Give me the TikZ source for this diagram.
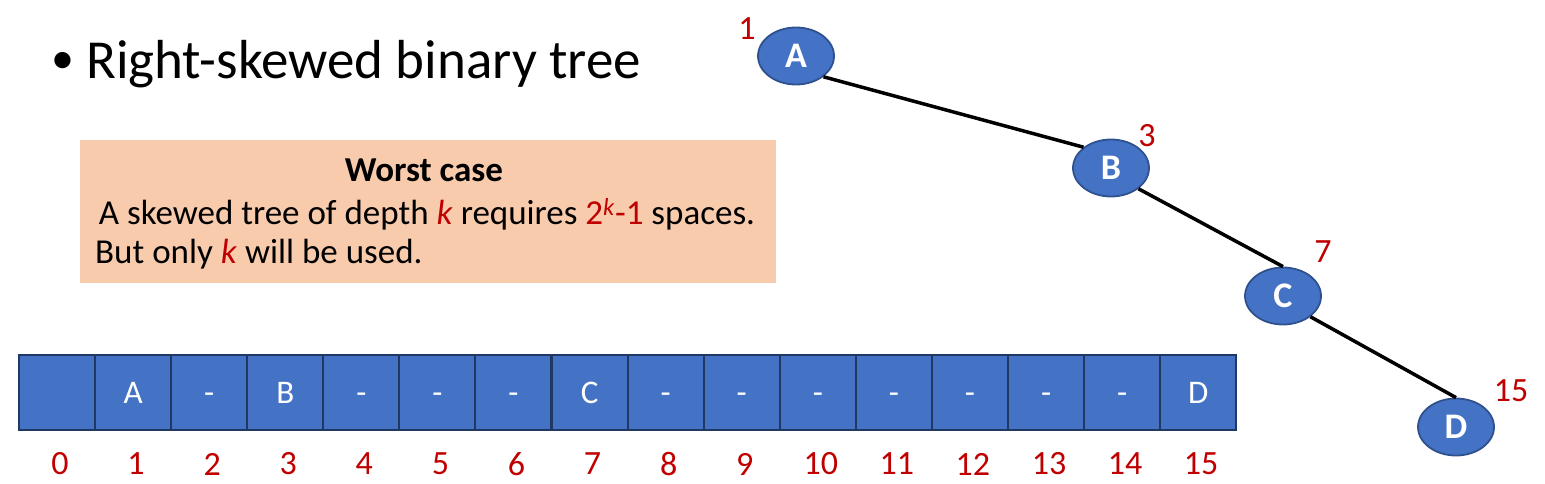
\documentclass[tikz,border=0pt]{standalone}
\usepackage{fontspec}
\setmainfont{Carlito}
\usetikzlibrary{shapes.geometric}
\definecolor{nodeblue}{HTML}{4472C4}
\definecolor{nodeedge}{HTML}{2F528F}
\definecolor{celledge}{HTML}{1F3864}
\definecolor{idxred}{HTML}{C00000}
\definecolor{boxfill}{HTML}{F8CBAD}
\begin{document}
\begin{tikzpicture}[x=1pt,y=-1pt,
  treenode/.style={ellipse, draw=nodeedge, line width=1.8pt, fill=nodeblue,
    minimum width=76pt, minimum height=57pt, inner sep=0pt, text=white,
    font=\fontsize{36}{40}\selectfont\bfseries},
  cell/.style={draw=celledge, line width=2pt, fill=nodeblue, minimum width=76pt,
    minimum height=75pt, inner sep=0pt, text=white, text height=22pt, text depth=0pt,
    font=\fontsize{33}{36}\selectfont},
  idx/.style={text=idxred, inner sep=0pt, font=\fontsize{34}{38}\selectfont},
  lbl/.style={text=idxred, inner sep=0pt, font=\fontsize{34}{38}\selectfont},
  treeedge/.style={line width=3.5pt, black},
  boxtext/.style={inner sep=0pt, font=\fontsize{35}{40}\selectfont}
]
\useasboundingbox (0,0) rectangle (1545,484);

% title
\node[inner sep=0pt, font=\fontsize{46}{50}\selectfont] (bullet) at (63,63) {\textbullet};
\node[anchor=base west, inner sep=0pt, font=\fontsize{55}{60}\selectfont] (title) at (86,79) {Right-skewed binary tree};

% worst case box
\node[fill=boxfill, minimum width=696pt, minimum height=143pt, inner sep=0pt] (wc) at (428,211.5) {};
\node[boxtext, font=\fontsize{35}{40}\selectfont\bfseries] (wc1) at (424,170) {Worst case};
\node[boxtext] (wc2) at (427,214) {A skewed tree of depth \textcolor{idxred}{\textit{k}} requires \textcolor{idxred}{2\textsuperscript{\textit{k}}-1} spaces.};
\node[boxtext, anchor=west] (wc3) at (95,254) {But only \textcolor{idxred}{\textit{k}} will be used.};

% array
\foreach \t [count=\i from 0] in {{},A,-,B,-,-,-,C,-,-,-,-,-,-,-,D} {
  \node[cell] (c\i) at ({57+76.08*\i},392.5) {\t};
  \node[idx] (n\i) at ({60+76.08*\i},464) {\i};
}

% tree
\node[treenode] (A) at (796,56) {A};
\node[treenode] (B) at (1111,168) {B};
\node[treenode] (C) at (1283,296) {C};
\node[treenode] (D) at (1456,427) {D};
\node[lbl] (lA) at (747,28.5) {1};
\node[lbl] (lB) at (1147,136) {3};
\node[lbl] (lC) at (1323,252) {7};
\node[lbl] (lD) at (1511,391) {15};

\draw[treeedge] (A.south east) -- (B.north west);
\draw[treeedge] (B.south east) -- (C.north);
\draw[treeedge] (C.south east) -- (D.north);
\end{tikzpicture}
\end{document}
